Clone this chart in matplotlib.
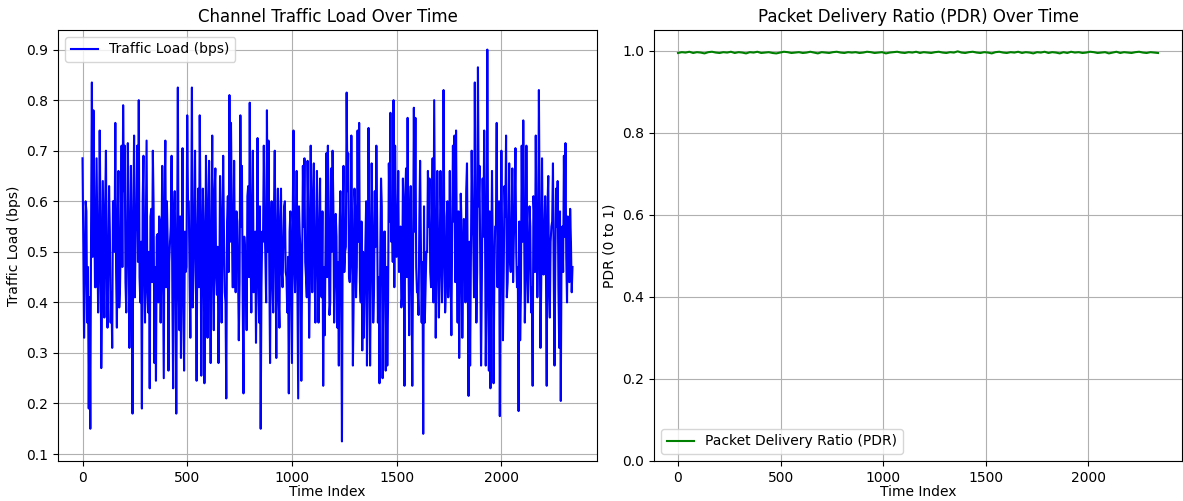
import numpy as np
import matplotlib
matplotlib.use("Agg")
import matplotlib.pyplot as plt

# traffic load (spikes in order, left to right)
spikes = [
  0.685, 0.33, 0.6, 0.36, 0.19, 0.15, 0.835, 0.78, 0.43, 0.685, 0.38, 0.74, 0.27, 0.64, 0.37, 0.70,
  0.35, 0.63, 0.36, 0.31, 0.6, 0.755, 0.35, 0.66, 0.43, 0.71, 0.79, 0.71, 0.38, 0.715, 0.31, 0.67,
  0.18, 0.73, 0.54, 0.71, 0.80, 0.40, 0.19, 0.69, 0.36, 0.72, 0.38, 0.23, 0.585, 0.70, 0.28, 0.245,
  0.535, 0.57, 0.36, 0.67, 0.25, 0.72, 0.6, 0.265, 0.52, 0.69, 0.23, 0.62, 0.18, 0.825, 0.345, 0.29,
  0.705, 0.265, 0.46, 0.77, 0.6, 0.33, 0.825, 0.46,
  0.70, 0.245, 0.625, 0.77, 0.255, 0.625, 0.24, 0.69, 0.33, 0.68, 0.28, 0.73, 0.345, 0.665, 0.415, 0.28,
  0.65, 0.36, 0.69, 0.42, 0.21, 0.61, 0.81, 0.755, 0.43, 0.68, 0.42, 0.56, 0.325, 0.77, 0.67, 0.22,
  0.50, 0.345, 0.63, 0.795, 0.38, 0.70, 0.465, 0.32, 0.725, 0.36, 0.15, 0.54, 0.71, 0.49, 0.78, 0.72,
  0.28, 0.6, 0.38, 0.70, 0.29, 0.625, 0.35, 0.625, 0.43, 0.59, 0.46, 0.38, 0.22, 0.58, 0.28, 0.74,
  0.42, 0.66, 0.21, 0.535, 0.245, 0.67, 0.685, 0.45, 0.68, 0.33, 0.71, 0.42, 0.675, 0.36, 0.66,
  0.36, 0.645, 0.41, 0.235, 0.335, 0.695, 0.71, 0.375, 0.665, 0.70, 0.36, 0.575, 0.35, 0.275, 0.62, 0.125,
  0.67, 0.50, 0.815, 0.695, 0.44, 0.73, 0.275, 0.625, 0.41, 0.74, 0.755, 0.40, 0.305, 0.33, 0.515, 0.275,
  0.745, 0.275, 0.675, 0.36, 0.62, 0.71, 0.36, 0.24, 0.645, 0.25, 0.54, 0.265, 0.275, 0.675, 0.775, 0.58,
  0.80, 0.71, 0.49, 0.66, 0.465, 0.39, 0.645, 0.235, 0.665, 0.765, 0.335, 0.63, 0.235, 0.785, 0.765, 0.42,
  0.375, 0.68, 0.36, 0.14, 0.36, 0.50, 0.66, 0.645, 0.43, 0.685, 0.80, 0.33, 0.66, 0.37, 0.66, 0.40, 0.82,
  0.38, 0.57, 0.41, 0.66, 0.335, 0.71, 0.73, 0.74, 0.36, 0.29, 0.615, 0.33, 0.565, 0.40, 0.675, 0.215,
  0.275, 0.70, 0.53, 0.835, 0.36, 0.865, 0.67, 0.275, 0.645, 0.74, 0.275, 0.90, 0.265, 0.23, 0.66, 0.24,
  0.55, 0.755, 0.565, 0.175, 0.70, 0.325, 0.63, 0.73, 0.44, 0.675, 0.46, 0.665, 0.53, 0.705, 0.43, 0.185,
  0.325, 0.71, 0.76, 0.36, 0.71, 0.40, 0.59, 0.38, 0.235, 0.575, 0.73, 0.41, 0.82, 0.31, 0.685, 0.455,
  0.61, 0.235, 0.65, 0.37, 0.55, 0.675, 0.275, 0.625, 0.64, 0.31, 0.205, 0.55, 0.69, 0.715, 0.40, 0.56,
  0.585, 0.42, 0.47,
]

# in-between points from the dense middle band of the same panel
band = [
  0.52, 0.44, 0.58, 0.47, 0.41, 0.55, 0.49, 0.61, 0.43, 0.53, 0.46, 0.57, 0.40, 0.51, 0.59, 0.45,
  0.48, 0.54, 0.42, 0.60, 0.50, 0.46, 0.56, 0.39, 0.53, 0.47, 0.62, 0.44, 0.51, 0.57, 0.43, 0.49,
  0.55, 0.41, 0.58, 0.48, 0.45, 0.52, 0.60, 0.46, 0.54, 0.42, 0.50, 0.57, 0.44, 0.59, 0.47, 0.53,
  0.40, 0.56, 0.49, 0.45, 0.61, 0.43, 0.52, 0.48, 0.55, 0.41, 0.58, 0.46, 0.51, 0.44, 0.57, 0.50,
  0.42, 0.54, 0.47, 0.60, 0.45, 0.53, 0.39, 0.56,
  0.48, 0.52, 0.43, 0.58, 0.46, 0.55, 0.41, 0.50, 0.59, 0.44, 0.53, 0.47, 0.62, 0.45, 0.51, 0.42,
  0.57, 0.49, 0.54, 0.40, 0.56, 0.46, 0.52, 0.60, 0.43, 0.50, 0.58, 0.47, 0.44, 0.55, 0.41, 0.53,
  0.48, 0.61, 0.45, 0.51, 0.57, 0.42, 0.54, 0.49, 0.46, 0.59, 0.43, 0.52, 0.56, 0.40, 0.50, 0.47,
  0.55, 0.44, 0.58, 0.48, 0.53, 0.41, 0.57, 0.46, 0.51, 0.60, 0.45, 0.49, 0.54, 0.42, 0.56, 0.47,
  0.52, 0.43, 0.59, 0.50, 0.45, 0.55, 0.48, 0.41, 0.57, 0.44, 0.53, 0.61, 0.46, 0.51, 0.49,
  0.54, 0.42, 0.58, 0.47, 0.52, 0.45, 0.56, 0.40, 0.50, 0.59, 0.44, 0.53, 0.48, 0.55, 0.43, 0.57,
  0.46, 0.51, 0.62, 0.45, 0.49, 0.54, 0.41, 0.58, 0.47, 0.52, 0.44, 0.56, 0.50, 0.43, 0.60, 0.48,
  0.53, 0.46, 0.55, 0.42, 0.51, 0.57, 0.45, 0.49, 0.59, 0.44, 0.54, 0.47, 0.40, 0.56, 0.52, 0.48,
  0.43, 0.58, 0.50, 0.46, 0.55, 0.41, 0.53, 0.61, 0.45, 0.51, 0.57, 0.44, 0.49, 0.54, 0.47, 0.42,
  0.56, 0.52, 0.48, 0.59, 0.43, 0.50, 0.55, 0.46, 0.53, 0.40, 0.58, 0.47, 0.51, 0.45, 0.57, 0.49,
  0.54, 0.42, 0.60, 0.48, 0.46, 0.53, 0.56, 0.44, 0.51, 0.58, 0.43, 0.55, 0.47, 0.50, 0.62, 0.45,
  0.52, 0.49, 0.57, 0.41, 0.54, 0.46, 0.59, 0.48, 0.44, 0.53, 0.56, 0.42, 0.51, 0.58, 0.47, 0.50,
  0.45, 0.55, 0.43, 0.60, 0.49, 0.52, 0.46, 0.57, 0.41, 0.54, 0.48, 0.53, 0.44, 0.59, 0.50, 0.47,
  0.56, 0.42, 0.52, 0.58, 0.45, 0.51, 0.48, 0.55, 0.43, 0.61, 0.46, 0.53, 0.49, 0.57, 0.44, 0.50,
  0.54, 0.47, 0.59, 0.42, 0.52, 0.56, 0.45, 0.48, 0.55, 0.43, 0.58, 0.51, 0.46, 0.53, 0.49, 0.57,
  0.44, 0.52,
]

# packet delivery ratio, right panel (hugs 1.0)
pdr = [
  0.994, 0.996, 0.995, 0.997, 0.994, 0.996, 0.995, 0.993, 0.996, 0.997, 0.995, 0.994, 0.996, 0.995, 0.997, 0.994,
  0.996, 0.995, 0.993, 0.996, 0.995, 0.997, 0.994, 0.995, 0.996, 0.994, 0.993, 0.995, 0.997, 0.996, 0.994, 0.995,
  0.996, 0.994, 0.995, 0.997, 0.995, 0.993, 0.996, 0.995, 0.994, 0.996, 0.997, 0.995, 0.994, 0.996, 0.995, 0.996,
  0.994, 0.995, 0.997, 0.996, 0.994, 0.995, 0.996, 0.993, 0.995, 0.996, 0.997, 0.995, 0.994, 0.996, 0.995, 0.997,
  0.994, 0.996, 0.995, 0.994, 0.996, 0.997, 0.995, 0.994, 0.996, 0.995, 0.998, 0.995, 0.994, 0.996, 0.997, 0.995,
  0.994, 0.996, 0.995, 0.993, 0.996, 0.997, 0.995, 0.994, 0.996, 0.995, 0.997, 0.994, 0.996, 0.995, 0.993, 0.996,
  0.995, 0.997, 0.994, 0.996, 0.995, 0.993, 0.996, 0.994, 0.997, 0.995, 0.996, 0.994, 0.995, 0.997, 0.996, 0.994,
  0.995, 0.996, 0.993, 0.995, 0.997, 0.994, 0.996, 0.995, 0.994, 0.996, 0.997, 0.995, 0.994, 0.996, 0.995, 0.994,
]

# interleave spikes with band points
traffic = []
for i in range(len(spikes)):
  traffic.append(spikes[i])
  if i < len(band):
    traffic.append(band[i])

t_traffic = np.linspace(0, 2339, len(traffic))
t_pdr = np.linspace(0, 2339, len(pdr))

fig = plt.figure(figsize=(11.83, 5.01), dpi=100)
ax1 = fig.add_axes([58/1183, 40/501, 539/1183, 431/501])
ax2 = fig.add_axes([654/1183, 40/501, 528/1183, 431/501])

ax1.plot(t_traffic, traffic, color='blue', label='Traffic Load (bps)')
ax1.set_title('Channel Traffic Load Over Time')
ax1.set_xlabel('Time Index', labelpad=0)
ax1.set_ylabel('Traffic Load (bps)')
ax1.legend(loc='upper left')
ax1.grid(True)

ax2.plot(t_pdr, pdr, color='green', label='Packet Delivery Ratio (PDR)')
ax2.set_title('Packet Delivery Ratio (PDR) Over Time')
ax2.set_xlabel('Time Index', labelpad=0)
ax2.set_ylabel('PDR (0 to 1)')
ax2.set_ylim(0, 1.05)
ax2.legend(loc='lower left')
ax2.grid(True)

fig.savefig('out.png', dpi=100)
